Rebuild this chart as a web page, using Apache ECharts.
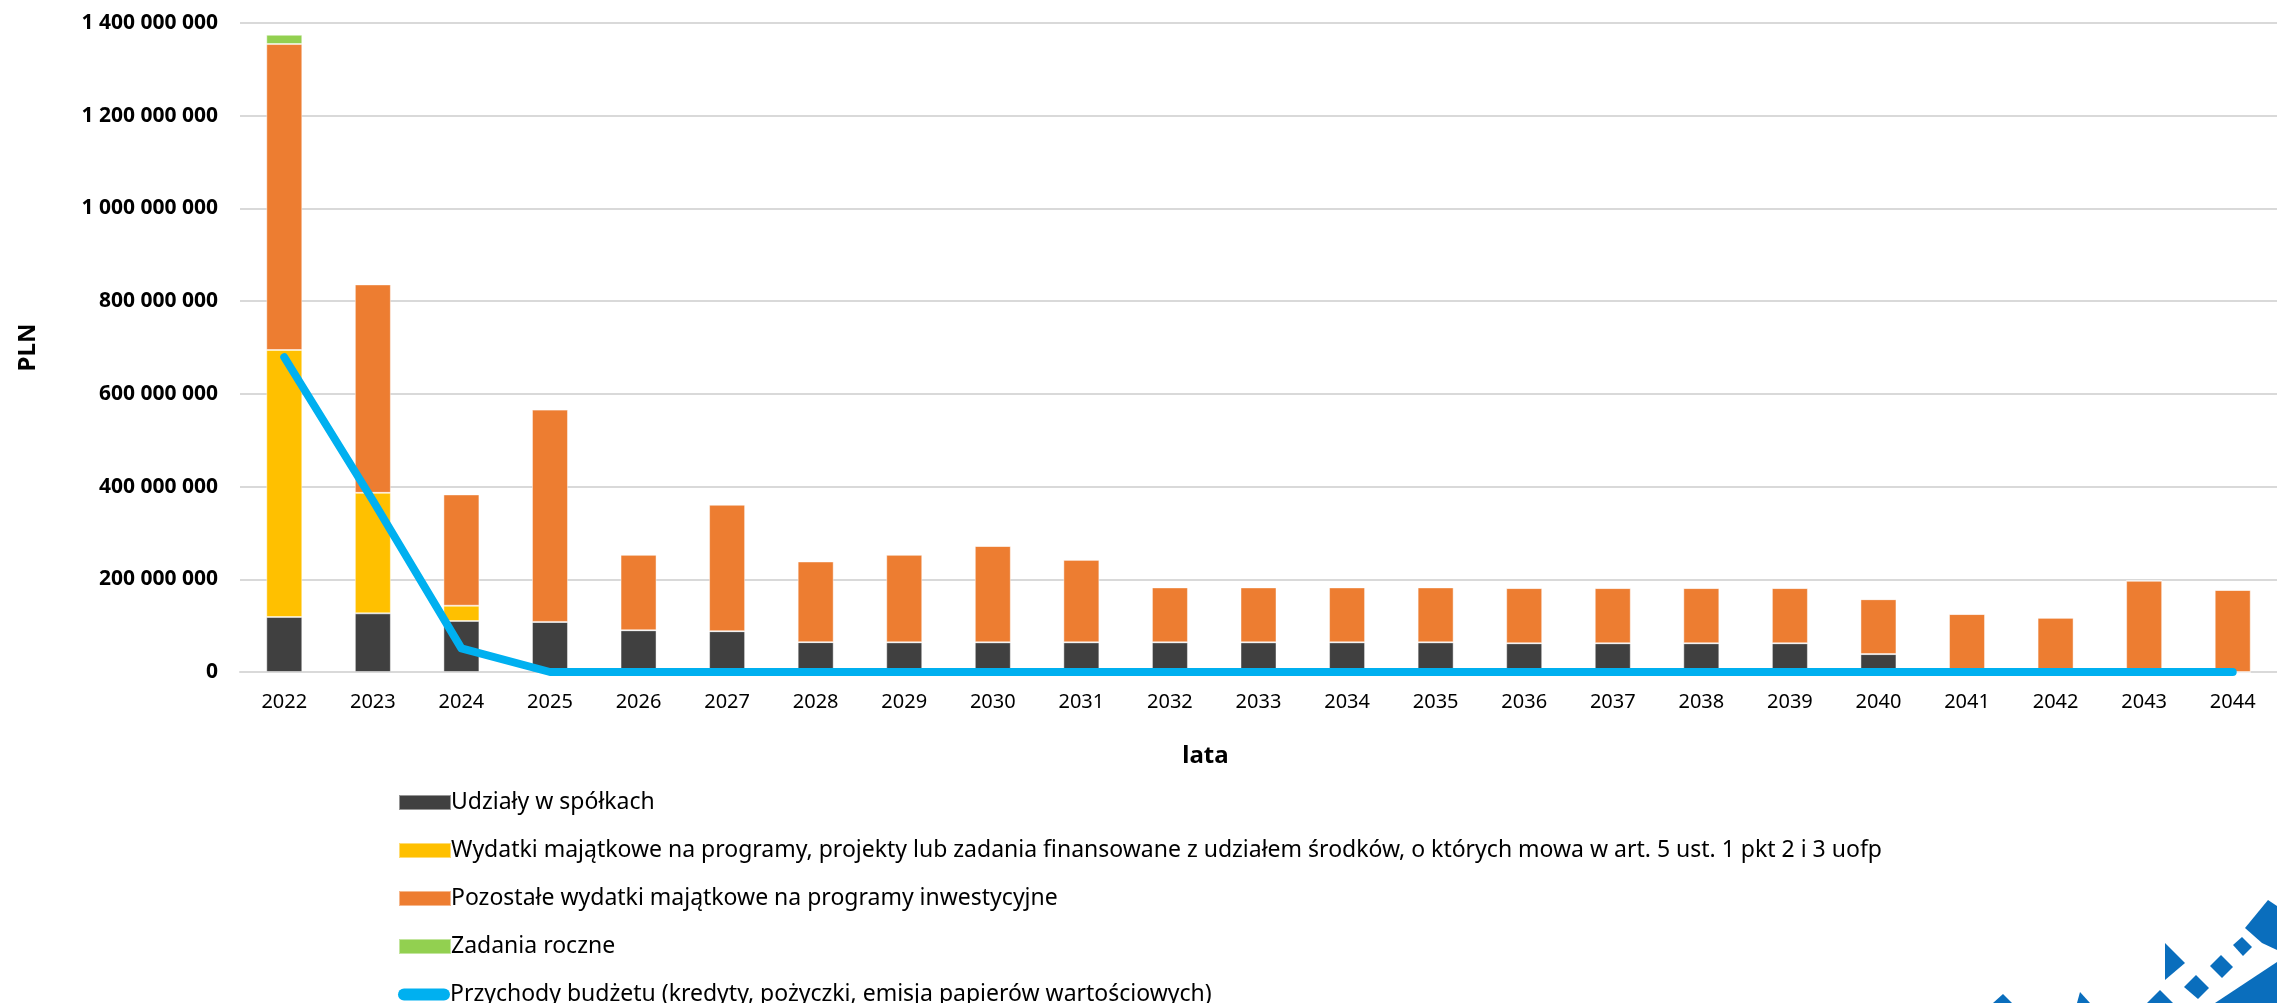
<!DOCTYPE html>
<html>
<head>
<meta charset="utf-8">
<script src="https://cdn.jsdelivr.net/npm/echarts@6/dist/echarts.min.js"></script>
<style>
  html, body { margin: 0; padding: 0; background: #fff; }
  #chart { width: 2277px; height: 1003px; }
</style>
</head>
<body>
<div id="chart"></div>
<script>
// lata
const years = ['2022', '2023', '2024', '2025', '2026', '2027', '2028', '2029', '2030', '2031', '2032', '2033',
  '2034', '2035', '2036', '2037', '2038', '2039', '2040', '2041', '2042', '2043', '2044'];

// wartości w PLN
const udzialy = [118600000, 126500000, 110000000, 108000000, 90000000, 88000000, 64400000, 64000000, 64000000,
  64000000, 64000000, 64000000, 64000000, 64000000, 62000000, 62000000, 62000000, 62000000, 38600000, 0, 0, 0, 0];
const wydatkiUofp = [576000000, 260000000, 33000000, 0, 0, 0, 0, 0, 0, 0, 0, 0, 0, 0, 0, 0, 0, 0, 0, 0, 0, 0, 0];
const pozostale = [660000000, 449600000, 240000000, 458000000, 163000000, 273000000, 174000000, 189000000,
  208000000, 178000000, 118500000, 118500000, 118500000, 118500000, 119000000, 119000000, 119000000, 119000000,
  118400000, 125000000, 117000000, 197000000, 177000000];
const zadaniaRoczne = [20000000, 0, 0, 0, 0, 0, 0, 0, 0, 0, 0, 0, 0, 0, 0, 0, 0, 0, 0, 0, 0, 0, 0];
const przychody = [679000000, 370000000, 51000000, 0, 0, 0, 0, 0, 0, 0, 0, 0, 0, 0, 0, 0, 0, 0, 0, 0, 0, 0, 0];

const names = [
  'Udziały w spółkach',
  'Wydatki majątkowe na programy, projekty lub zadania finansowane z udziałem środków, o których mowa w art. 5 ust. 1 pkt 2 i 3 uofp',
  'Pozostałe wydatki majątkowe na programy inwestycyjne',
  'Zadania roczne',
  'Przychody budżetu (kredyty, pożyczki, emisja papierów wartościowych)'
];

const FONT = '"Noto Sans", "Open Sans", sans-serif';
const LOGO = '#0A6EBD';

const chart = echarts.init(document.getElementById('chart'));

function fmt(v) {
  return String(v).replace(/\B(?=(\d{3})+(?!\d))/g, ' ');
}

function barSeries(name, data, color) {
  return {
    name: name,
    type: 'bar',
    stack: 'wydatki',
    barWidth: 36,
    itemStyle: { color: color, borderColor: 'rgba(255,255,255,0.45)', borderWidth: 1 },
    data: data
  };
}

// jedna legenda na pozycję, żeby ułożyć je pionowo jak w oryginale
const legendTops = [786, 834, 882, 930, 978];
function legendItem(i, icon, extra) {
  return {
    orient: 'vertical',
    left: 393,
    top: legendTops[i],
    itemWidth: 52,
    itemHeight: 15,
    textStyle: { fontFamily: FONT, fontSize: 23, lineHeight: 15, color: '#000', padding: [0, 0, 0, -5] },
    data: [Object.assign({ name: names[i], icon: icon }, extra || {})]
  };
}

const option = {
  backgroundColor: '#fff',
  animation: false,
  textStyle: { fontFamily: FONT },
  grid: { left: 240, right: -18, top: 23, bottom: 331 },
  legend: [
    legendItem(0, 'rect'),
    legendItem(1, 'rect'),
    legendItem(2, 'rect'),
    legendItem(3, 'rect'),
    legendItem(4, 'path://M6,0 L46,0 A6,6 0 0 1 46,12 L6,12 A6,6 0 0 1 6,0 Z', { itemStyle: { color: '#00B0F0' } })
  ],
  xAxis: {
    type: 'category',
    data: years,
    name: 'lata',
    nameLocation: 'middle',
    nameGap: 72,
    nameTextStyle: { fontFamily: FONT, fontSize: 24, fontWeight: 'bold', color: '#000', padding: [0, 106, 0, 0] },
    axisLine: { lineStyle: { color: '#d9d9d9', width: 2 } },
    axisTick: { show: false },
    axisLabel: { fontFamily: FONT, fontSize: 20, color: '#000', margin: 20 }
  },
  yAxis: {
    type: 'value',
    min: 0,
    max: 1400000000,
    interval: 200000000,
    name: 'PLN',
    nameLocation: 'middle',
    nameGap: 200,
    nameTextStyle: { fontFamily: FONT, fontSize: 24, fontWeight: 'bold', color: '#000' },
    axisLine: { show: false },
    axisTick: { show: false },
    splitLine: { lineStyle: { color: '#d9d9d9', width: 2 } },
    axisLabel: { fontFamily: FONT, fontSize: 21, fontWeight: 'bold', color: '#000', margin: 22, formatter: fmt }
  },
  series: [
    barSeries(names[0], udzialy, '#404040'),
    barSeries(names[1], wydatkiUofp, '#FFC000'),
    barSeries(names[2], pozostale, '#ED7D31'),
    barSeries(names[3], zadaniaRoczne, '#92D050'),
    {
      name: names[4],
      type: 'line',
      symbol: 'none',
      z: 5,
      lineStyle: { color: '#00B0F0', width: 8, cap: 'round', join: 'round' },
      itemStyle: { color: '#00B0F0' },
      data: przychody
    }
  ],
  // fragment logo w prawym dolnym rogu
  graphic: [
    { type: 'polygon', shape: { points: [[2245, 928], [2268, 900], [2277, 906], [2277, 950], [2262, 943]] }, style: { fill: LOGO } },
    { type: 'polygon', shape: { points: [[2233, 945], [2242, 937], [2252, 947], [2243, 956]] }, style: { fill: LOGO } },
    { type: 'polygon', shape: { points: [[2210, 966], [2221, 955], [2233, 967], [2222, 978]] }, style: { fill: LOGO } },
    { type: 'polygon', shape: { points: [[2184, 987], [2196, 975], [2209, 988], [2198, 999]] }, style: { fill: LOGO } },
    { type: 'polygon', shape: { points: [[2165, 943], [2185, 963], [2165, 980]] }, style: { fill: LOGO } },
    { type: 'polygon', shape: { points: [[2277, 962], [2277, 1003], [2215, 1003]] }, style: { fill: LOGO } },
    { type: 'polygon', shape: { points: [[2147, 1003], [2160, 990], [2173, 1003]] }, style: { fill: LOGO } },
    { type: 'polygon', shape: { points: [[2077, 1003], [2080, 992], [2090, 1003]] }, style: { fill: LOGO } },
    { type: 'polygon', shape: { points: [[1993, 1003], [2003, 994], [2012, 1003]] }, style: { fill: LOGO } }
  ]
};

chart.setOption(option);
window.addEventListener('resize', () => chart.resize());
</script>
</body>
</html>
